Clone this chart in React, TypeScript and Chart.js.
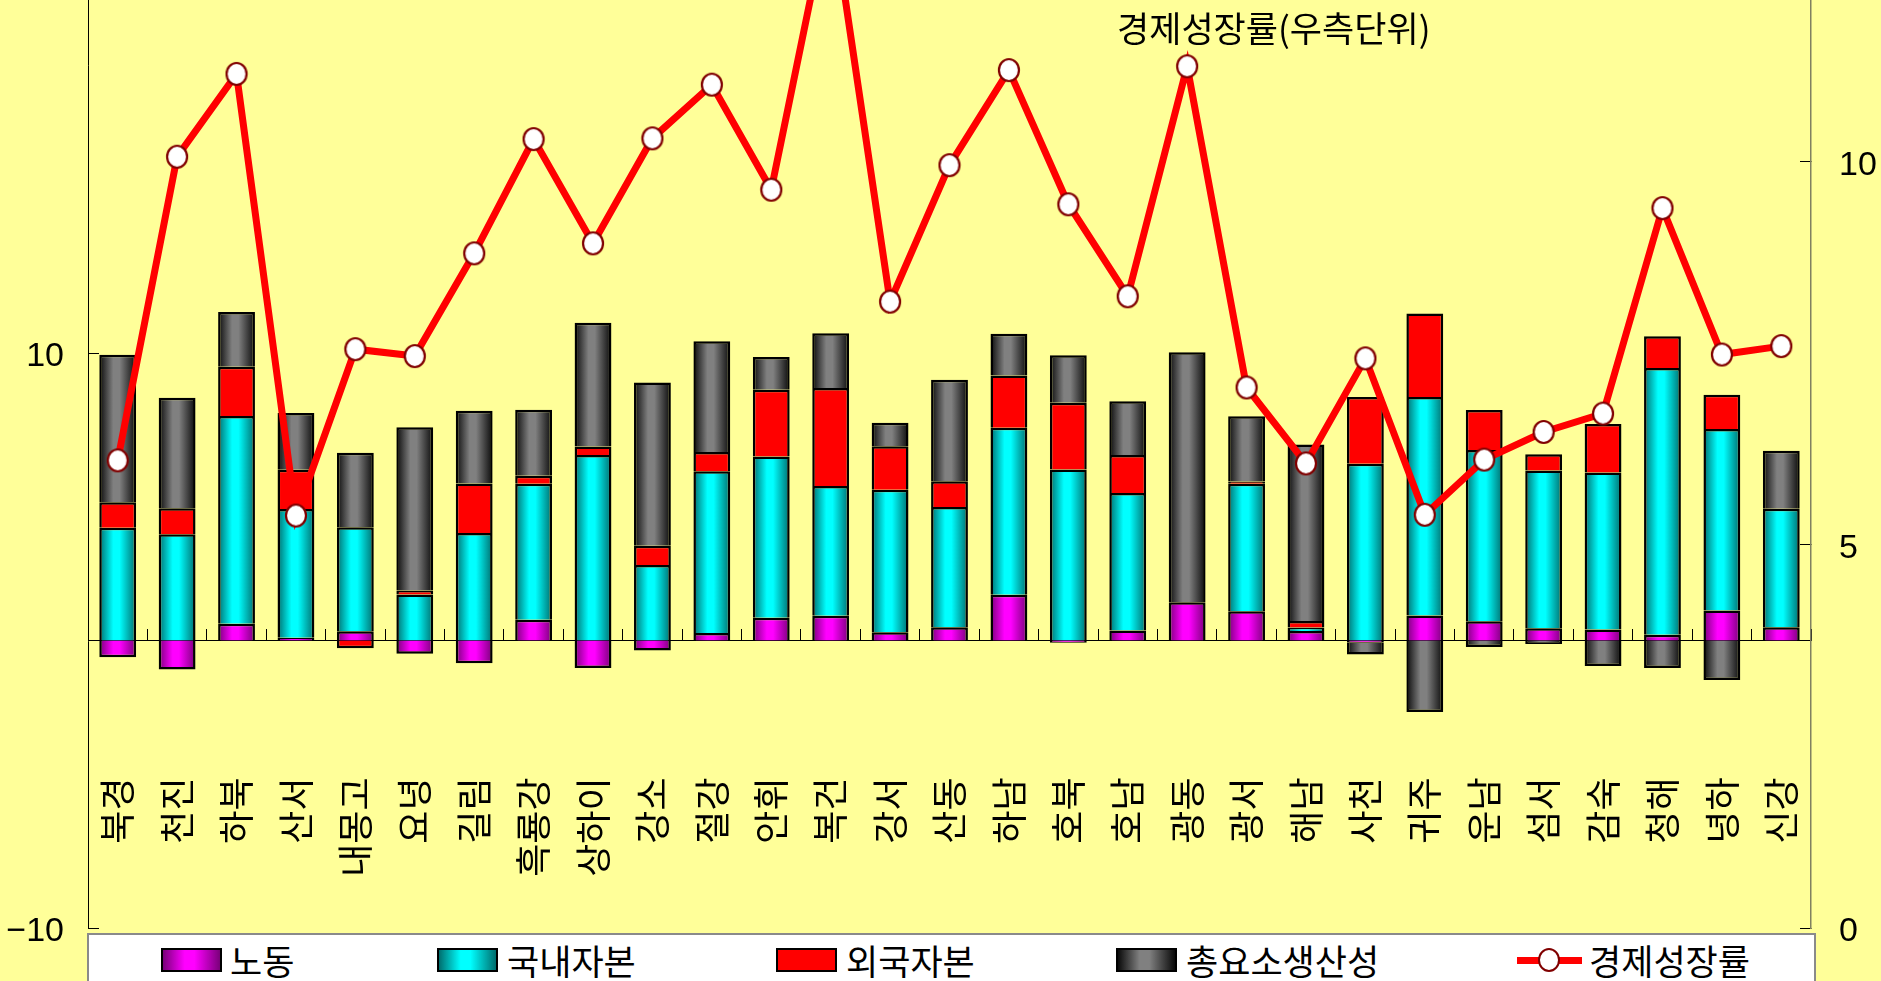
import React, { useEffect, useRef } from "react";
import { Chart, registerables } from "chart.js";

Chart.register(...registerables);

// ---------------- data ----------------
const categories = [
  "북경", "천진", "하북", "산서", "내몽고", "요녕", "길림", "흑룡강", "상하이", "강소",
  "절강", "안휘", "복건", "강서", "산동", "하남", "호북", "호남", "광동", "광서",
  "해남", "사천", "귀주", "운남", "섬서", "감숙", "청해", "녕하", "신강",
];

const labor = [
  -0.58, -1.01, 0.58, 0.1, 0.32, -0.46, -0.79, 0.72, -0.96, -0.35,
  0.26, 0.79, 0.86, 0.29, 0.46, 1.59, -0.08, 0.35, 1.33, 1.02,
  0.33, -0.08, 0.87, 0.67, 0.43, 0.38, 0.2, 1.04, 0.46,
];

const domesticCapital = [
  3.92, 3.7, 7.23, 4.47, 3.62, 1.6, 3.74, 4.73, 6.45, 2.63,
  5.63, 5.61, 4.51, 4.95, 4.18, 5.81, 5.95, 4.78, 0, 4.43,
  0.12, 6.15, 7.6, 5.96, 5.48, 5.46, 9.28, 6.32, 4.12,
];

const foreignCapital = [
  0.89, 0.9, 1.71, 1.37, -0.27, 0.14, 1.72, 0.28, 0.3, 0.67,
  0.67, 2.32, 3.41, 1.52, 0.9, 1.82, 2.32, 1.32, 0, 0.08,
  0.23, 2.32, 2.9, 1.39, 0.57, 1.69, 1.1, 1.19, 0,
];

const tfp = [
  5.13, 3.84, 1.91, 1.97, 2.59, 5.68, 2.53, 2.3, 4.3, 5.67,
  3.85, 1.14, 1.91, 0.81, 3.53, 1.45, 1.65, 1.87, 8.7, 2.27,
  6.14, -0.41, -2.49, -0.23, -0.12, -0.89, -0.96, -1.37, 2.02,
];

const growthRate = [
  6.1, 10.06, 11.14, 5.38, 7.55, 7.46, 8.8, 10.29, 8.93, 10.3,
  11.0, 9.63, 13.4, 8.17, 9.95, 11.19, 9.44, 8.24, 11.24, 7.05,
  6.06, 7.43, 5.39, 6.11, 6.47, 6.71, 9.39, 7.48, 7.59,
];

const seriesNames = ["노동", "국내자본", "외국자본", "총요소생산성", "경제성장률"];
const annotationText = "경제성장률(우측단위)";

const leftMin = -10;
const leftMax = 30;
const leftStep = 20;
const rightMin = 0;
const rightMax = 15;
const rightStep = 5;

// ---------------- styles ----------------
const BG = "#FFFF99";
const BAR_FRACTION = 0.62;
const GRAD = {
  labor: ["#7a007a", "#ff00ff"],
  domestic: ["#006e6e", "#00ffff"],
  foreign: ["#ff0000", "#ff0000"],
  tfp: ["#0a0a0a", "#808080"],
};
const KR = "'Noto Sans CJK KR', 'Noto Sans', sans-serif";
const NUM = "'Liberation Sans', Arial, sans-serif";

function gradientFill(dark: string, light: string) {
  return (ctx: any) => {
    const chart = ctx.chart;
    const xs = chart.scales && chart.scales.x;
    if (!xs || ctx.type !== "data" || !isFinite(xs.left) || xs.right <= xs.left) return light;
    const cw = (xs.right - xs.left) / categories.length;
    const w = cw * BAR_FRACTION;
    const cx = xs.getPixelForValue(ctx.dataIndex);
    if (!isFinite(cx)) return light;
    const g = chart.ctx.createLinearGradient(cx - w / 2, 0, cx + w / 2, 0);
    g.addColorStop(0, dark);
    g.addColorStop(0.38, light);
    g.addColorStop(0.55, light);
    g.addColorStop(1, dark);
    return g;
  };
}

function makePointImage() {
  const c = document.createElement("canvas");
  c.width = 24;
  c.height = 26;
  const g = c.getContext("2d")!;
  g.beginPath();
  g.ellipse(12, 13, 10, 11, 0, 0, Math.PI * 2);
  g.fillStyle = "#ffffff";
  g.fill();
  g.lineWidth = 2.2;
  g.strokeStyle = "#800000";
  g.stroke();
  return c;
}

const fmtTick = (v: any) => {
  const n = Number(v);
  return n < 0 ? "\u2212" + Math.abs(n) : String(n);
};

function Swatch({ left, dark, light }: { left: number; dark: string; light: string }) {
  return (
    <div
      style={{
        position: "absolute",
        left,
        top: 948,
        width: 61,
        height: 24,
        boxSizing: "border-box",
        border: "2px solid #000",
        background: `linear-gradient(to right, ${dark} 0%, ${light} 38%, ${light} 55%, ${dark} 100%)`,
      }}
    />
  );
}

function LegendText({ left, text }: { left: number; text: string }) {
  return (
    <div
      style={{
        position: "absolute",
        left,
        top: 942,
        fontFamily: KR,
        fontSize: 35,
        lineHeight: "35px",
        color: "#000",
        whiteSpace: "nowrap",
      }}
    >
      {text}
    </div>
  );
}

export default function App() {
  const ref = useRef<HTMLCanvasElement>(null);

  useEffect(() => {
    const canvas = ref.current;
    if (!canvas) return;
    const pointImg = makePointImage();
    const barCommon = {
      type: "bar" as const,
      yAxisID: "y",
      order: 1,
      borderColor: "#000000",
      borderWidth: 2.5,
      barPercentage: BAR_FRACTION,
      categoryPercentage: 1,
    };
    const chart = new Chart(canvas, {
      type: "bar",
      data: {
        labels: categories,
        datasets: [
          {
            type: "line",
            label: seriesNames[4],
            data: growthRate,
            yAxisID: "y1",
            order: 0,
            borderColor: "#ff0000",
            backgroundColor: "#ffffff",
            borderWidth: 7,
            pointStyle: pointImg as any,
            pointRadius: 11,
            pointHoverRadius: 11,
            pointBorderWidth: 0,
            pointHoverBorderWidth: 0,
            tension: 0,
          } as any,
          { ...barCommon, label: seriesNames[0], data: labor, backgroundColor: gradientFill(GRAD.labor[0], GRAD.labor[1]) } as any,
          { ...barCommon, label: seriesNames[1], data: domesticCapital, backgroundColor: gradientFill(GRAD.domestic[0], GRAD.domestic[1]) } as any,
          { ...barCommon, label: seriesNames[2], data: foreignCapital, backgroundColor: GRAD.foreign[1] } as any,
          { ...barCommon, label: seriesNames[3], data: tfp, backgroundColor: gradientFill(GRAD.tfp[0], GRAD.tfp[1]) } as any,
        ],
      },
      options: {
        responsive: true,
        maintainAspectRatio: false,
        animation: false,
        events: [],
        layout: { padding: { top: 12, bottom: 53, left: 0, right: 0 } },
        plugins: { legend: { display: false }, tooltip: { enabled: false }, title: { display: false } },
        scales: {
          x: {
            type: "category",
            stacked: true,
            offset: true,
            position: { y: 0 } as any,
            grid: {
              display: true,
              offset: true,
              drawOnChartArea: false,
              drawTicks: true,
              tickLength: -12,
              color: "#000000",
              lineWidth: 1,
            },
            border: { display: true, color: "#000000", width: 1 },
            ticks: {
              autoSkip: false,
              minRotation: 90,
              maxRotation: 90,
              padding: 149,
              color: "#000000",
              font: { family: KR, size: 36 },
            },
            afterFit: (s: any) => {
              s.paddingLeft = 0;
              s.paddingRight = 0;
              s.paddingTop = 0;
              s.paddingBottom = 0;
            },
          } as any,
          y: {
            type: "linear",
            position: "left",
            stacked: true,
            min: leftMin,
            max: leftMax,
            ticks: {
              stepSize: leftStep,
              padding: 35,
              labelOffset: 4,
              color: "#000000",
              font: { family: NUM, size: 34 },
              callback: fmtTick,
            },
            grid: { display: true, drawOnChartArea: false, drawTicks: true, tickLength: -11, color: "#000000", lineWidth: 1 },
            border: { display: true, color: "#000000", width: 1 },
            afterFit: (s: any) => {
              s.width = 88;
              s.paddingTop = 0;
              s.paddingBottom = 0;
            },
          } as any,
          y1: {
            type: "linear",
            position: "right",
            min: rightMin,
            max: rightMax,
            ticks: {
              stepSize: rightStep,
              padding: 39,
              labelOffset: 4,
              color: "#000000",
              font: { family: NUM, size: 34 },
              callback: fmtTick,
            },
            grid: { display: true, drawOnChartArea: false, drawTicks: true, tickLength: -11, color: "#000000", lineWidth: 1 },
            border: { display: true, color: "#808060", width: 1.5 },
            afterFit: (s: any) => {
              s.width = 70;
              s.paddingTop = 0;
              s.paddingBottom = 0;
            },
          } as any,
        },
      },
    });
    return () => chart.destroy();
  }, []);

  return (
    <div
      style={{
        position: "fixed",
        left: 0,
        top: 0,
        width: 1881,
        height: 981,
        overflow: "hidden",
        background: BG,
      }}
    >
      <div style={{ position: "absolute", left: 0, top: -234, width: 1881, height: 1215 }}>
        <canvas ref={ref} style={{ display: "block" }} />
      </div>
      <div
        style={{
          position: "absolute",
          left: 1117,
          top: 9,
          fontFamily: KR,
          fontSize: 35,
          lineHeight: "35px",
          color: "#000",
          whiteSpace: "nowrap",
        }}
      >
        {annotationText}
      </div>
      <div
        style={{
          position: "absolute",
          left: 87,
          top: 933,
          width: 1729,
          height: 70,
          boxSizing: "border-box",
          background: "#ffffff",
          border: "2px solid #8a8a8a",
        }}
      />
      <Swatch left={161} dark={GRAD.labor[0]} light={GRAD.labor[1]} />
      <LegendText left={230} text={seriesNames[0]} />
      <Swatch left={437} dark={GRAD.domestic[0]} light={GRAD.domestic[1]} />
      <LegendText left={507} text={seriesNames[1]} />
      <Swatch left={776} dark={GRAD.foreign[0]} light={GRAD.foreign[1]} />
      <LegendText left={846} text={seriesNames[2]} />
      <Swatch left={1116} dark={GRAD.tfp[0]} light={GRAD.tfp[1]} />
      <LegendText left={1186} text={seriesNames[3]} />
      <div style={{ position: "absolute", left: 1517, top: 957, width: 65, height: 7, background: "#ff0000" }} />
      <div
        style={{
          position: "absolute",
          left: 1538,
          top: 948,
          width: 22,
          height: 24,
          boxSizing: "border-box",
          borderRadius: "50%",
          background: "#ffffff",
          border: "2px solid #800000",
        }}
      />
      <LegendText left={1589} text={seriesNames[4]} />
    </div>
  );
}
